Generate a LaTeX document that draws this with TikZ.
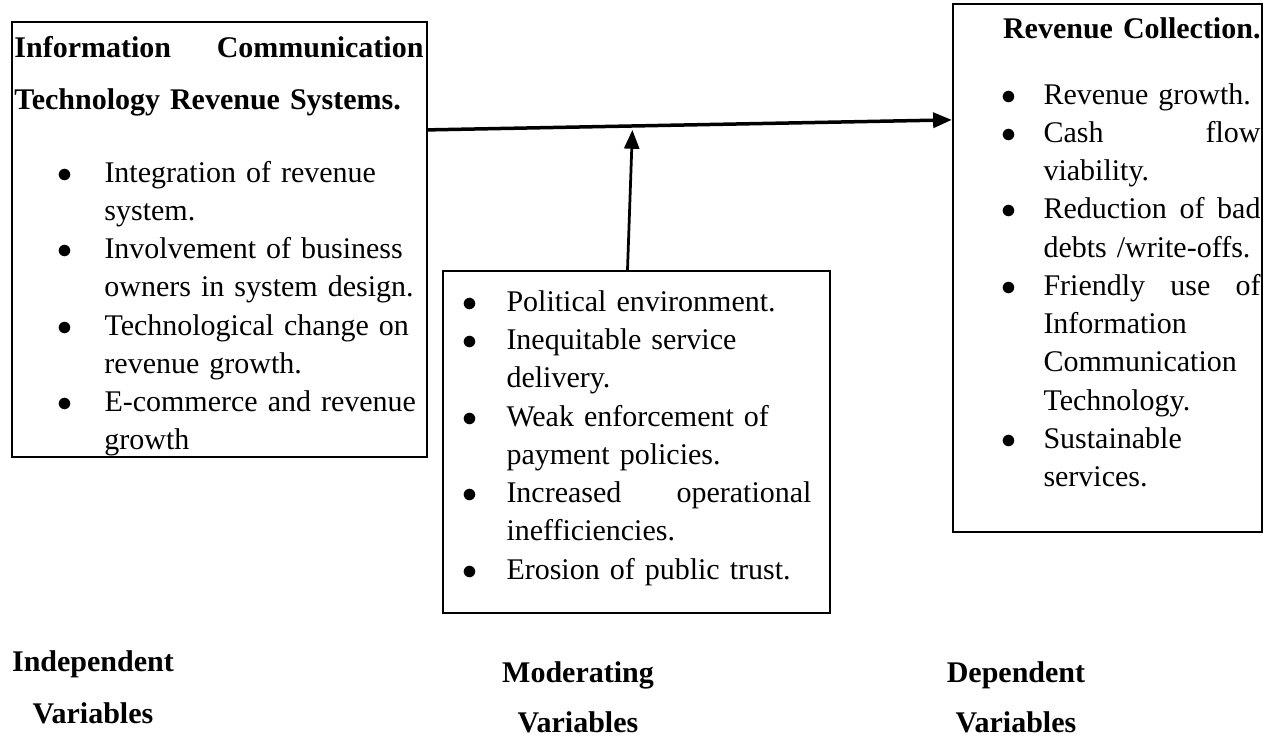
\documentclass[tikz,border=0pt]{standalone}
\usepackage{fontspec}
\setmainfont{Liberation Serif}
\usetikzlibrary{arrows.meta, calc, fit}

\newenvironment{dotlist}[2]{%
  \begin{list}{$\bullet$}{%
    \setlength\leftmargin{#1}\setlength\labelsep{#2}%
    \setlength\labelwidth{6pt}\setlength\itemindent{0pt}%
    \setlength\itemsep{0pt}\setlength\parsep{0pt}%
    \setlength\topsep{0pt}\setlength\partopsep{0pt}}%
  \raggedright}{\end{list}}

\begin{document}
\begin{tikzpicture}[
  x=0.4pt, y=-0.4pt,
  panel/.style={draw, line width=0.9pt, inner sep=0pt},
  body/.style={anchor=base west, inner sep=0pt,
    font=\fontsize{12pt}{15.3pt}\selectfont},
  caption/.style={anchor=base, inner sep=0pt, text width=80pt, align=center,
    font=\fontsize{12pt}{20pt}\selectfont\bfseries},
  flow/.style={-{Triangle[length=7.5pt, width=6pt]}, line width=1.4pt},
]
\useasboundingbox (0,0) rectangle (1275,736);

\node[panel, fit={(12,22) (427,457)}] (ict) {};
\node[panel, fit={(443,271) (830,613)}] (mod) {};
\node[panel, fit={(953,4) (1262,532)}] (rev) {};

\node[body, text width=163.6pt] (ict-text) at (14,57) {%
  {\fontsize{12pt}{20.8pt}\selectfont\bfseries
   Information\hfill Communication\\ Technology Revenue Systems.\par}
  \vspace{13.9pt}
  \begin{dotlist}{36pt}{12.6pt}
  \item Integration of revenue\\ system.
  \item Involvement of business\\ owners in system design.
  \item Technological change on\\ revenue growth.
  \item E-commerce and revenue\\ growth
  \end{dotlist}};

% the list opens the box, so the anchor sits on its top edge
\node[body, text width=146.4pt] (mod-text) at (445,273) {%
  \begin{dotlist}{24.4pt}{11.8pt}
  \item Political environment.
  \item Inequitable service\\ delivery.
  \item Weak enforcement of\\ payment policies.
  \item Increased\hfill operational\\ inefficiencies.
  \item Erosion of public trust.
  \end{dotlist}};

\node[body, text width=122pt] (rev-text) at (955,38) {%
  \noindent\hfill\textbf{Revenue Collection.}\par
  \vspace{11.1pt}
  \begin{dotlist}{35.2pt}{11pt}
  \item Revenue growth.
  \item Cash\hfill flow\\ viability.
  \item Reduction\hfill of\hfill bad\\ debts /write-offs.
  \item Friendly\hfill use\hfill of\\ Information\\ Communication\\ Technology.
  \item Sustainable\\ services.
  \end{dotlist}};

\node[caption] (indep) at (93,671) {Independent\\[0.8pt] Variables};
\node[caption] (moder) at (578,682) {Moderating\\ Variables};
\node[caption] (depen) at (1016,682) {Dependent\\ Variables};

\draw[flow] ($(ict.north east)+(0,109)$) -- coordinate[pos=0.39] (meet)
  ($(rev.north west)+(0,117)$);
\draw[flow, line width=1.1pt] ($(mod.north)+(-9,0)$) -- ($(meet)+(0,4)$);
\end{tikzpicture}
\end{document}
